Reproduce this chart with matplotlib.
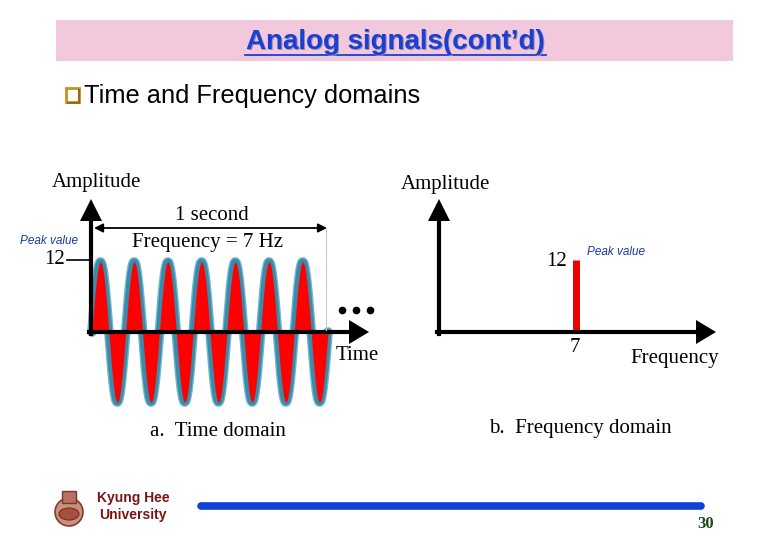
import numpy as np
import matplotlib
matplotlib.use("Agg")
import matplotlib.pyplot as plt
from matplotlib.patches import Rectangle, FancyArrow, Ellipse, Circle

# ---- data ----
peak_value = 12
frequency_hz = 7
duration_s = 1.0
spectrum_freqs = [7]
spectrum_amps = [12]
time_samples = 1400

W, H = 780, 540
fig = plt.figure(figsize=(W / 100, H / 100), dpi=100)

def fr(x0, y0, x1, y1):
    # pixel box (top-left origin) -> figure fraction rect
    return [x0 / W, 1 - y1 / H, (x1 - x0) / W, (y1 - y0) / H]

serif = "Liberation Serif"
sans = "Liberation Sans"
SF = 15

# ---- time-domain wave axes ----
axt = fig.add_axes(fr(92, 262, 328, 402))
axt.set_zorder(1)
t = np.linspace(0, duration_s, time_samples)
y = peak_value * np.sin(2 * np.pi * frequency_hz * t)
axt.plot(t, y, color="#6fb6cf", lw=7.0, solid_capstyle="round", zorder=0, clip_on=False)
axt.plot(t, y, color="#3a8aa8", lw=5.0, solid_capstyle="round", zorder=1, clip_on=False)
axt.fill_between(t, 0, y, color="#ff0000", lw=0, zorder=2)
axt.set_xlim(0, duration_s)
axt.set_ylim(-peak_value, peak_value)
axt.axis("off")

# ---- frequency-domain axes ----
axf = fig.add_axes(fr(439, 260, 713, 332))
axf.set_zorder(1)
axf.vlines(spectrum_freqs, 0, spectrum_amps, color="#ee0000", lw=5)
axf.set_xlim(0, 14)
axf.set_ylim(0, 12)
axf.axis("off")

# ---- overlay (pixel coordinates) ----
ov = fig.add_axes([0, 0, 1, 1])
ov.set_zorder(3)
ov.set_xlim(0, W)
ov.set_ylim(H, 0)
ov.axis("off")
ov.patch.set_alpha(0)

# title bar
ov.add_patch(Rectangle((56, 20), 677, 41, color="#f2c9dc", lw=0))
ov.text(396.5, 43.5, "Analog signals(cont’d)", family=sans, weight="bold", fontsize=20,
        color="#8c8cb4", ha="center", va="center")
ov.text(395, 42, "Analog signals(cont’d)", family=sans, weight="bold", fontsize=20,
        color="#1b3fd0", ha="center", va="center")
ov.plot([245, 546], [55, 55], color="#1b3fd0", lw=1.3)

# bullet
ov.add_patch(Rectangle((66, 88), 13, 14, facecolor="white", edgecolor="#c89020", lw=2))
ov.plot([68, 79, 79], [103, 103, 90], color="#9a6a10", lw=1.5)
ov.text(84, 96, "Time and Frequency domains", family=sans, fontsize=18.3,
        color="black", ha="left", va="center")

black = "black"
# time-domain axes arrows
ov.plot([91, 91], [334, 218], color=black, lw=3)
ov.add_patch(FancyArrow(91, 222, 0, -1, width=0, head_width=22, head_length=22,
                        color=black, lw=0))
ov.plot([89, 350], [332, 332], color=black, lw=3)
ov.add_patch(FancyArrow(348, 332, 1, 0, width=0, head_width=24, head_length=20,
                        color=black, lw=0))
# peak tick
ov.plot([67, 91], [260, 260], color=black, lw=1.2)
ov.text(55, 260, str(peak_value), family=serif, fontsize=SF, ha="center", va="center")
ov.text(49, 241, "Peak value", family=sans, style="italic", fontsize=8.5,
        color="#1a3aa0", ha="center", va="center")
ov.text(96, 183, "Amplitude", family=serif, fontsize=SF, ha="center", va="center")
ov.text(212, 215, "1 second", family=serif, fontsize=SF, ha="center", va="center")
ov.annotate("", xy=(94, 228), xytext=(327, 228),
            arrowprops=dict(arrowstyle="<|-|>", color=black, lw=1.3, mutation_scale=13,
                            shrinkA=0, shrinkB=0))
ov.text(207, 242, f"Frequency = {frequency_hz} Hz", family=serif, fontsize=SF,
        ha="center", va="center")
ov.plot([326, 326], [228, 330], color="#c8c8c8", lw=0.8)
for xd in (342, 356, 370):
    ov.plot(xd, 310, "o", color=black, ms=4.5)
ov.text(357, 356, "Time", family=serif, fontsize=SF, ha="center", va="center")
ov.text(218, 431, "a.  Time domain", family=serif, fontsize=SF, ha="center", va="center")

# frequency-domain axes arrows
ov.plot([439, 439], [334, 218], color=black, lw=3)
ov.add_patch(FancyArrow(439, 222, 0, -1, width=0, head_width=22, head_length=22,
                        color=black, lw=0))
ov.plot([437, 697], [332, 332], color=black, lw=3)
ov.add_patch(FancyArrow(695, 332, 1, 0, width=0, head_width=24, head_length=20,
                        color=black, lw=0))
ov.text(445, 185, "Amplitude", family=serif, fontsize=SF, ha="center", va="center")
ov.text(557, 261, str(spectrum_amps[0]), family=serif, fontsize=SF, ha="center", va="center")
ov.text(616, 252, "Peak value", family=sans, style="italic", fontsize=8.5,
        color="#1a3aa0", ha="center", va="center")
ov.text(575, 348, str(spectrum_freqs[0]), family=serif, fontsize=SF, ha="center", va="center")
ov.text(675, 358, "Frequency", family=serif, fontsize=SF, ha="center", va="center")
ov.text(580, 428, "b.  Frequency domain", family=serif, fontsize=SF, ha="center", va="center")

# footer logo (simple emblem)
ov.add_patch(Circle((69, 512), 14, facecolor="#c89080", edgecolor="#8a3a2a", lw=1.2))
ov.add_patch(Ellipse((69, 514), 20, 12, facecolor="#a85040", edgecolor="#7a2a1a", lw=0.8))
ov.add_patch(Rectangle((62, 491), 14, 12, facecolor="#b87060", edgecolor="#7a3a2a", lw=1))
ov.text(133, 498, "Kyung Hee", family=sans, weight="bold", fontsize=10,
        color="#7a1414", ha="center", va="center")
ov.text(133, 515, "University", family=sans, weight="bold", fontsize=10,
        color="#7a1414", ha="center", va="center")
ov.plot([201, 701], [506, 506], color="#1040d8", lw=5.5, solid_capstyle="round")
ov.text(706, 524, "30", family=serif, weight="bold", fontsize=12,
        color="#1a4a1a", ha="center", va="center")

fig.savefig("out.png", dpi=100, facecolor="white")
